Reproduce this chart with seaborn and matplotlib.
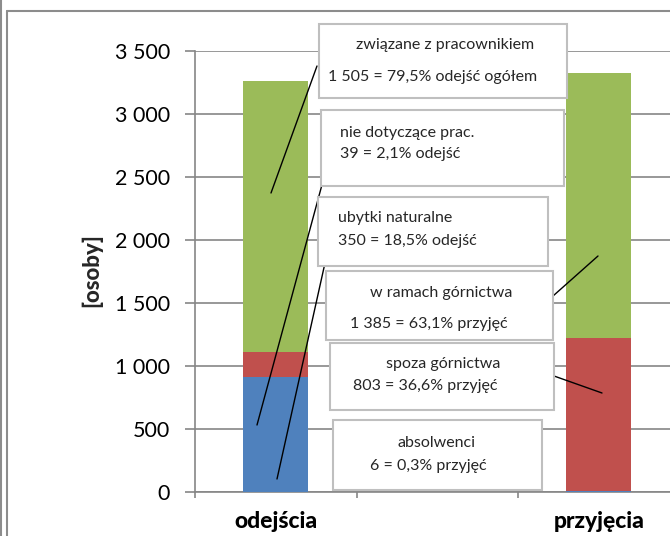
import matplotlib
matplotlib.use("Agg")
import matplotlib.pyplot as plt
from matplotlib.lines import Line2D
from matplotlib.patches import Rectangle
import seaborn as sns
import pandas as pd

# ---- data ----
categories = ["odejścia", "", "przyjęcia"]
blue_vals = [913, 0, 6]
red_vals = [200, 0, 1214]
green_vals = [2149, 0, 2105]
y_ticks = [0, 500, 1000, 1500, 2000, 2500, 3000, 3500]
y_tick_labels = ["0", "500", "1 000", "1 500", "2 000", "2 500", "3 000", "3 500"]
y_label = "[osoby]"

box_texts = [
    ("związane z pracownikiem", "1 505 = 79,5% odejść ogółem"),
    ("nie dotyczące prac.", "39 = 2,1% odejść"),
    ("ubytki naturalne", "350 = 18,5% odejść"),
    ("w ramach górnictwa", "1 385 = 63,1% przyjęć"),
    ("spoza górnictwa", "803 = 36,6% przyjęć"),
    ("absolwenci", "6 = 0,3% przyjęć"),
]

c_blue, c_red, c_green = "#4F81BD", "#C0504D", "#9BBB59"
grid_c = "#868686"

sns.set_theme(style="white")
plt.rcParams["font.family"] = ["Lato", "DejaVu Sans"]

W, H = 670, 536
fig = plt.figure(figsize=(6.7, 5.36), dpi=100)

def fx(px):
    return px / W

def fy(py):
    return 1 - py / H

ax = fig.add_axes([fx(195), fy(492), 1 - fx(195), fy(51) - fy(492)])

x = list(range(len(categories)))
df = pd.DataFrame({"cat": x, "blue": blue_vals, "red": red_vals, "green": green_vals})
df["red_top"] = df["blue"] + df["red"]
df["green_top"] = df["red_top"] + df["green"]

bw = 0.4
ax.bar(df["cat"], df["green_top"], width=bw, color=c_green, zorder=2, linewidth=0)
ax.bar(df["cat"], df["red_top"], width=bw, color=c_red, zorder=3, linewidth=0)
ax.bar(df["cat"], df["blue"], width=bw, color=c_blue, zorder=4, linewidth=0)

ax.set_xlim(-0.5, -0.5 + (670 - 195) / 161.5)
ax.set_ylim(0, 3500)
ax.set_yticks(y_ticks)
ax.set_yticklabels(y_tick_labels, fontsize=15.5, color="black")
ax.set_xticks([-0.5, 0.5, 1.5])
ax.set_xticklabels([])
ax.yaxis.grid(True, color=grid_c, linewidth=1.2, zorder=0)
ax.set_axisbelow(True)
for s in ["top", "right"]:
    ax.spines[s].set_visible(False)
for s in ["left", "bottom"]:
    ax.spines[s].set_color(grid_c)
    ax.spines[s].set_linewidth(1.2)
ax.tick_params(axis="y", length=7, width=1.2, color=grid_c, left=True, pad=11)
ax.tick_params(axis="x", length=4, width=1.2, color=grid_c, bottom=True)
ax.set_facecolor("none")

# category labels
cat_px = [276, 437, 599]
for px, lab in zip(cat_px, categories):
    if lab:
        fig.text(fx(px), fy(521), lab, ha="center", va="center",
                 fontsize=16.5, fontweight="black", color="black")

fig.text(fx(92), fy(270), y_label, rotation=90, ha="center", va="center",
         fontsize=16, fontweight="black")

# outer frame lines
fig.add_artist(Line2D([fx(7), fx(7)], [fy(11), 0], color="#8c8c8c", lw=1.5))
fig.add_artist(Line2D([fx(7), 1], [fy(11), fy(11)], color="#8c8c8c", lw=1.5))
fig.add_artist(Line2D([fx(1), fx(1)], [1, 0], color="#8c8c8c", lw=1.5))

# leader lines (figure pixel coords)
leaders = [
    ((317, 66), (271, 193)),
    ((323, 181), (257, 425)),
    ((325, 263), (277, 479)),
    ((553, 296), (598, 256)),
    ((554, 376), (602, 393)),
]
for (x0, y0), (x1, y1) in leaders:
    fig.add_artist(Line2D([fx(x0), fx(x1)], [fy(y0), fy(y1)], color="black", lw=1.0, zorder=10))

# text boxes: (x0, y0, x1, y1), line1 pos/align, line2 pos/align
boxes = [
    ((319, 24, 567, 98), (445, 45, "center"), (328, 77, "left")),
    ((321, 110, 564, 186), (340, 133, "left"), (340, 154, "left")),
    ((318, 197, 548, 266), (338, 218, "left"), (338, 241, "left")),
    ((326, 271, 553, 340), (441, 293, "center"), (350, 324, "left")),
    ((330, 343, 554, 410), (443, 364, "center"), (353, 386, "left")),
    ((333, 420, 542, 490), (437, 443, "center"), (370, 466, "left")),
]
for ((bx0, by0, bx1, by1), (t1x, t1y, t1a), (t2x, t2y, t2a)), (l1, l2) in zip(boxes, box_texts):
    r = Rectangle((fx(bx0), fy(by1)), fx(bx1) - fx(bx0), fy(by0) - fy(by1),
                  transform=fig.transFigure, facecolor="white", edgecolor="#bfbfbf",
                  lw=1.5, zorder=11)
    fig.add_artist(r)
    fig.text(fx(t1x), fy(t1y), l1, ha=t1a, va="center", fontsize=11.5, zorder=12)
    fig.text(fx(t2x), fy(t2y), l2, ha=t2a, va="center", fontsize=11.5, zorder=12)

fig.savefig("out.png", dpi=100)
